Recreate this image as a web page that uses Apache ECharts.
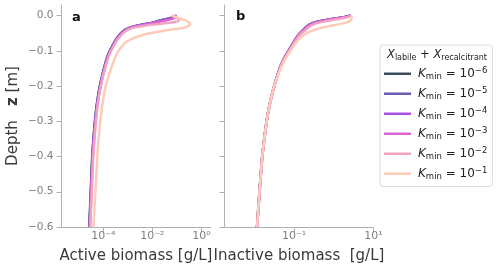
<!DOCTYPE html>
<html>
<head>
<meta charset="utf-8">
<script src="https://cdn.jsdelivr.net/npm/echarts@6/dist/echarts.min.js"></script>
<style>
html,body{margin:0;padding:0;background:#fff;}
#c{width:500px;height:274px;}
</style>
</head>
<body>
<div id="c"></div>
<script>
// ---------------- data ----------------
const depth = [0, -0.005, -0.01, -0.015, -0.02, -0.025, -0.03, -0.035, -0.04, -0.05, -0.06, -0.07, -0.08, -0.1, -0.12, -0.15, -0.2, -0.25, -0.3, -0.35, -0.4, -0.5, -0.6];

const kLabels = ['−6', '−5', '−4', '−3', '−2', '−1'];

// Active biomass [g/L]
const activeK6 = [0.0891, 0.0631, 0.0355, 0.0178, 0.0100, 0.00398, 0.00191, 0.00112, 7.94e-4, 5.25e-4, 3.98e-4, 3.16e-4, 2.63e-4, 1.86e-4, 1.41e-4, 1.07e-4, 7.24e-5, 5.5e-5, 4.57e-5, 3.98e-5, 3.55e-5, 3.09e-5, 2.69e-5];
const activeK5 = [0.095, 0.066, 0.037, 0.0185, 0.0104, 0.0042, 0.00198, 0.00116, 8.1e-4, 5.35e-4, 4.05e-4, 3.22e-4, 2.68e-4, 1.9e-4, 1.44e-4, 1.09e-4, 7.4e-5, 5.6e-5, 4.65e-5, 4.05e-5, 3.6e-5, 3.14e-5, 2.73e-5];
const activeK4 = [0.1, 0.072, 0.04, 0.02, 0.011, 0.0045, 0.0021, 0.00122, 8.4e-4, 5.5e-4, 4.15e-4, 3.3e-4, 2.74e-4, 1.94e-4, 1.47e-4, 1.11e-4, 7.55e-5, 5.7e-5, 4.75e-5, 4.12e-5, 3.67e-5, 3.2e-5, 2.78e-5];
const activeK3 = [0.085, 0.09, 0.06, 0.03, 0.014, 0.0055, 0.0025, 0.0014, 9.2e-4, 5.9e-4, 4.4e-4, 3.5e-4, 2.88e-4, 2.02e-4, 1.52e-4, 1.15e-4, 7.8e-5, 5.9e-5, 4.9e-5, 4.25e-5, 3.78e-5, 3.3e-5, 2.86e-5];
const activeK2 = [0.063, 0.089, 0.112, 0.12, 0.056, 0.0126, 0.00355, 0.00158, 0.001, 6.3e-4, 4.68e-4, 3.55e-4, 2.95e-4, 2.09e-4, 1.58e-4, 1.17e-4, 7.94e-5, 6.03e-5, 5.01e-5, 4.37e-5, 3.89e-5, 3.39e-5, 2.95e-5];
const activeK1 = [0.060, 0.1, 0.158, 0.251, 0.316, 0.347, 0.282, 0.178, 0.05, 0.00794, 0.0024, 0.00112, 7.08e-4, 4.17e-4, 3.02e-4, 2.09e-4, 1.26e-4, 9.33e-5, 7.59e-5, 6.46e-5, 5.75e-5, 4.79e-5, 3.98e-5];

// Inactive biomass [g/L]
const inactiveK6 = [2.63, 1.78, 0.891, 0.468, 0.316, 0.251, 0.214, 0.191, 0.174, 0.141, 0.120, 0.105, 0.0933, 0.0724, 0.0575, 0.0437, 0.0316, 0.0245, 0.0204, 0.0178, 0.0158, 0.0135, 0.0117];
const inactiveK5 = [2.63, 1.8, 0.9, 0.475, 0.32, 0.253, 0.216, 0.192, 0.175, 0.142, 0.120, 0.105, 0.0935, 0.0725, 0.0576, 0.0437, 0.0316, 0.0245, 0.0204, 0.0178, 0.0158, 0.0135, 0.0117];
const inactiveK4 = [2.64, 1.84, 0.94, 0.5, 0.33, 0.26, 0.22, 0.195, 0.177, 0.143, 0.121, 0.106, 0.094, 0.073, 0.0578, 0.0438, 0.0317, 0.0245, 0.0204, 0.0178, 0.0158, 0.0135, 0.0117];
const inactiveK3 = [2.65, 1.9, 1.0, 0.54, 0.35, 0.27, 0.225, 0.2, 0.18, 0.145, 0.122, 0.107, 0.095, 0.0735, 0.058, 0.044, 0.0318, 0.0246, 0.0205, 0.0179, 0.0159, 0.0136, 0.0118];
const inactiveK2 = [2.7, 2.1, 1.25, 0.68, 0.42, 0.31, 0.255, 0.222, 0.197, 0.155, 0.128, 0.111, 0.098, 0.0752, 0.0592, 0.0448, 0.0322, 0.0249, 0.0207, 0.018, 0.016, 0.0137, 0.0119];
const inactiveK1 = [2.75, 2.82, 2.75, 2.57, 2.0, 1.32, 0.759, 0.5, 0.33, 0.209, 0.155, 0.126, 0.107, 0.0813, 0.0631, 0.0457, 0.0316, 0.0245, 0.0204, 0.0178, 0.0158, 0.0135, 0.0117];

const activeSets = [activeK6, activeK5, activeK4, activeK3, activeK2, activeK1];
const inactiveSets = [inactiveK6, inactiveK5, inactiveK4, inactiveK3, inactiveK2, inactiveK1];

// tick values
const xTicksA = [1e-4, 1e-2, 1];
const xTicksB = [0.1, 10];
const yTicks = [0, -0.1, -0.2, -0.3, -0.4, -0.5, -0.6];

// ---------------- styles ----------------
const colors = ['#3b4d5d', '#6a5bb5', '#a654df', '#d865d3', '#f2a1c1', '#fdcbb7'];
const FONT = 'DejaVu Sans';
const axisGrey = '#b0b0b0';
const labelGrey = '#808080';
const SUP = { '0': '⁰', '1': '¹', '2': '²', '3': '³', '4': '⁴', '5': '⁵', '6': '⁶', '7': '⁷', '8': '⁸', '9': '⁹', '-': '⁻' };

function seriesName(i) { return 'K' + kLabels[i]; }

function powLabel(v) {
  const e = Math.round(Math.log10(v));
  return '10' + String(e).split('').map(c => SUP[c]).join('');
}

function xAxisCfg(idx, min, max, ticks, name) {
  return {
    type: 'log', gridIndex: idx, min: min, max: max, position: 'bottom',
    axisLine: { show: true, onZero: false, lineStyle: { color: axisGrey, width: 1 } },
    axisTick: { show: true, customValues: ticks, length: 5, lineStyle: { color: axisGrey } },
    minorTick: { show: false },
    splitLine: { show: false },
    axisLabel: { customValues: ticks, formatter: powLabel, margin: 4, color: labelGrey,
      fontSize: 11, fontFamily: FONT, verticalAlign: 'top' },
    name: name, nameLocation: 'middle', nameGap: 22,
    nameTextStyle: { fontSize: 15, color: '#3a3a3a', fontFamily: FONT }
  };
}
function yAxisCfg(idx, showLabel) {
  const cfg = {
    type: 'value', gridIndex: idx, min: -0.6, max: 0.03, position: 'left',
    axisLine: { show: true, onZero: false, lineStyle: { color: axisGrey, width: 1 } },
    axisTick: { show: true, customValues: yTicks, length: 5, lineStyle: { color: axisGrey } },
    splitLine: { show: false },
    axisLabel: {
      show: showLabel, customValues: yTicks, margin: 8, color: labelGrey, fontSize: 10.5, fontFamily: FONT,
      formatter: v => (Math.abs(v) < 1e-9 ? '0.0' : '−' + Math.abs(v).toFixed(1))
    }
  };
  if (showLabel) {
    cfg.name = '{n|Depth   }{z|z}{n| [m]}';
    cfg.nameLocation = 'middle';
    cfg.nameGap = 41;
    cfg.nameTextStyle = {
      rich: {
        n: { fontSize: 15, color: '#3a3a3a', fontFamily: FONT },
        z: { fontSize: 15, color: '#3a3a3a', fontFamily: FONT, fontWeight: 'bold' }
      }
    };
  }
  return cfg;
}

const series = [];
activeSets.forEach((arr, i) => {
  series.push({
    name: seriesName(i), type: 'line', xAxisIndex: 0, yAxisIndex: 0,
    data: depth.map((z, j) => [arr[j], z]),
    showSymbol: false, smooth: 0.25, lineStyle: { width: 2.5, color: colors[i] }, itemStyle: { color: colors[i] },
    z: 2 + i
  });
});
inactiveSets.forEach((arr, i) => {
  series.push({
    name: seriesName(i), type: 'line', xAxisIndex: 1, yAxisIndex: 1,
    data: depth.map((z, j) => [arr[j], z]),
    showSymbol: false, smooth: 0.25, lineStyle: { width: 2.5, color: colors[i] }, itemStyle: { color: colors[i] },
    z: 2 + i
  });
});

const chart = echarts.init(document.getElementById('c'), null, { renderer: 'canvas' });
chart.setOption({
  animation: false,
  backgroundColor: '#fff',
  textStyle: { fontFamily: FONT },
  grid: [
    { left: 61.5, top: 5, width: 149, height: 222 },
    { left: 224.5, top: 5, width: 149, height: 222 }
  ],
  xAxis: [
    xAxisCfg(0, Math.pow(10, -5.7), Math.pow(10, 0.366), xTicksA, 'Active biomass [g/L]'),
    xAxisCfg(1, Math.pow(10, -2.75), 10, xTicksB, 'Inactive biomass  [g/L]')
  ],
  yAxis: [yAxisCfg(0, true), yAxisCfg(1, false)],
  legend: {
    orient: 'vertical', left: 380, top: 45,
    padding: [21, 5, 5, 4],
    borderColor: '#dcdcdc', borderWidth: 1, borderRadius: 3, backgroundColor: '#fff',
    itemWidth: 27, itemHeight: 2.5, itemGap: 4.5, icon: 'rect',
    data: kLabels.map((k, i) => seriesName(i)),
    formatter: name => '{k|K}{m|min}{t| = 10}{s|' + name.slice(1) + '}',
    textStyle: {
      padding: [0, 0, 0, 2],
      rich: {
        k: { fontSize: 12, fontStyle: 'italic', color: '#222', fontFamily: FONT, lineHeight: 15.5 },
        m: { fontSize: 8.5, color: '#222', fontFamily: FONT, verticalAlign: 'bottom', lineHeight: 11 },
        t: { fontSize: 12, color: '#222', fontFamily: FONT, lineHeight: 15.5 },
        s: { fontSize: 8.5, color: '#222', fontFamily: FONT, verticalAlign: 'top', lineHeight: 10 }
      }
    }
  },
  graphic: [
    { type: 'text', left: 72, top: 11, z: 100,
      style: { text: 'a', font: 'bold 13px "DejaVu Sans"', fill: '#111' } },
    { type: 'text', left: 236, top: 10, z: 100,
      style: { text: 'b', font: 'bold 13px "DejaVu Sans"', fill: '#111' } },
    { type: 'text', left: 387, top: 49, z: 100,
      style: {
        text: '{x|X}{s|labile}{t| + }{x|X}{s|recalcitrant}',
        rich: {
          x: { fontSize: 11.5, fontStyle: 'italic', fill: '#222', fontFamily: FONT, lineHeight: 14 },
          s: { fontSize: 8, fill: '#222', fontFamily: FONT, verticalAlign: 'bottom', lineHeight: 10 },
          t: { fontSize: 11.5, fill: '#222', fontFamily: FONT, lineHeight: 14 }
        }
      } }
  ],
  series: series
});
</script>
</body>
</html>
